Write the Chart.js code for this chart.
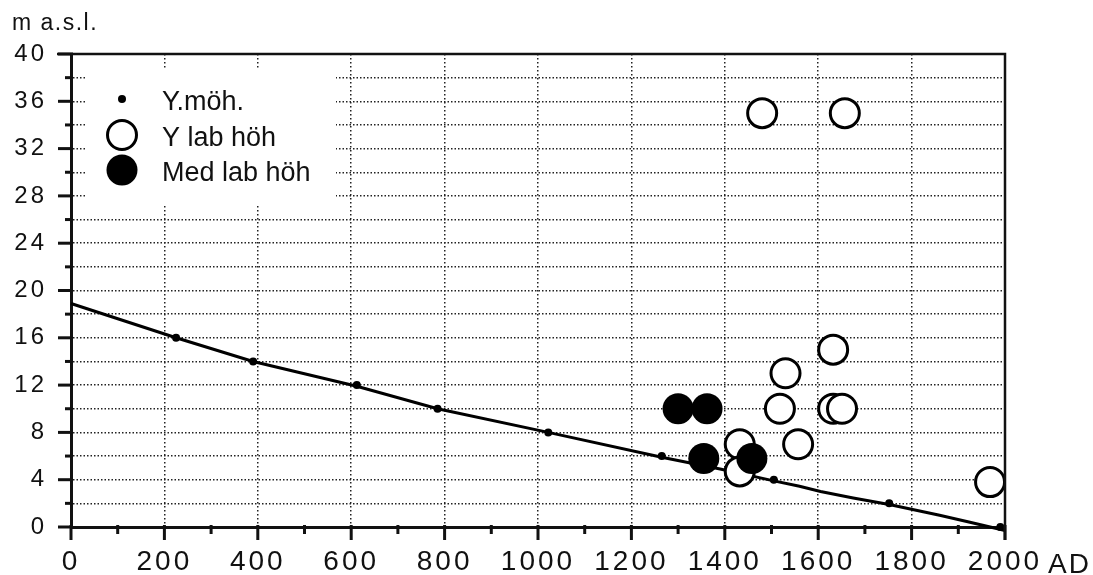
<!DOCTYPE html>
<html>
<head>
<meta charset="utf-8">
<script src="https://cdn.jsdelivr.net/npm/chart.js@4.4.1/dist/chart.umd.min.js"></script>
<style>
  body { margin: 0; background: #fff; }
  #wrap { width: 1093px; height: 575px; }
</style>
</head>
<body>
<div id="wrap"><canvas id="mainChart" width="1093" height="575"></canvas></div>
<script>
// Y.möh. : points on the shore line curve
var shoreYears = [225, 390, 612, 785, 1022, 1265, 1505, 1752, 1990];
var shoreLevels = [16, 14, 12, 10, 8, 6, 4, 2, 0];
// the drawn curve itself
var curveYears = [0, 225, 390, 612, 785, 1022, 1265, 1390, 1505, 1560, 1605, 1675, 1752, 1860, 1925, 2000];
var curveLevels = [18.9, 16, 14, 11.9, 10, 8, 5.9, 4.9, 3.9, 3.45, 3.0, 2.45, 1.9, 1.0, 0.4, -0.3];
// Y lab höh (open circles)
var labYears = [1480, 1657, 1632, 1530, 1518, 1632, 1651, 1432, 1557, 1432, 1968];
var labLevels = [35, 35, 15, 13, 10, 10, 10, 7, 7, 4.7, 3.8];
// Med lab höh (filled circles)
var medYears = [1300, 1362, 1355, 1458];
var medLevels = [10, 10, 5.8, 5.8];

var axisTitle = 'm a.s.l.';
var axisUnit = 'AD';

var toPoints = function(xs, ys) {
    return xs.map(function(x, i) { return {x: x, y: ys[i]}; });
};

// linear scale that can draw its labels letter spaced
var labelSpacing = {x: '3px', y: '3px'};
class SpacedLinearScale extends Chart.LinearScale {
    drawLabels(chartArea) {
        this.ctx.save();
        this.ctx.letterSpacing = labelSpacing[this.id] || '0px';
        super.drawLabels(chartArea);
        this.ctx.restore();
    }
}
SpacedLinearScale.id = 'spacedLinear';
SpacedLinearScale.defaults = Chart.LinearScale.defaults;
Chart.register(SpacedLinearScale);

// top/right frame, tick marks and the two loose texts
var framePlugin = {
    id: 'frame',
    afterDraw: function(chart) {
        var ctx = chart.ctx, a = chart.chartArea;
        var xs = chart.scales.x, ys = chart.scales.y;
        ctx.save();
        ctx.strokeStyle = '#111';
        ctx.lineWidth = 2.5;
        ctx.beginPath();
        ctx.moveTo(a.left - 14, a.top);
        ctx.lineTo(a.right, a.top);
        ctx.lineTo(a.right, a.bottom + 13);
        ctx.stroke();
        ctx.lineWidth = 3;
        ys.ticks.forEach(function(t) {
            var py = ys.getPixelForValue(t.value);
            var len = t.value % 4 === 0 ? 13 : 6;
            ctx.beginPath();
            ctx.moveTo(a.left - len, py);
            ctx.lineTo(a.left + 2, py);
            ctx.stroke();
        });
        xs.ticks.forEach(function(t) {
            var px = xs.getPixelForValue(t.value);
            var len = t.value % 200 === 0 ? 13 : 7;
            ctx.beginPath();
            ctx.moveTo(px, a.bottom - 2);
            ctx.lineTo(px, a.bottom + len);
            ctx.stroke();
        });
        ctx.fillStyle = '#111';
        ctx.textBaseline = 'alphabetic';
        ctx.font = '23px "Liberation Sans", Arial, sans-serif';
        ctx.letterSpacing = '1.5px';
        ctx.fillText(axisTitle, 12, 30);
        ctx.font = '28px "Liberation Sans", Arial, sans-serif';
        ctx.letterSpacing = '2px';
        ctx.fillText(axisUnit, xs.getPixelForValue(2000) + 43, 573);
        ctx.restore();
    }
};

// boxed legend inside the plot
var legendPlugin = {
    id: 'boxLegend',
    afterDraw: function(chart) {
        var ctx = chart.ctx;
        var rows = [99, 135, 170];
        var items = chart.data.datasets.filter(function(d) { return d.inLegend; })
            .sort(function(p, q) { return p.inLegend - q.inLegend; });
        ctx.save();
        ctx.fillStyle = '#fff';
        ctx.fillRect(86, 70, 250, 134);
        ctx.font = '27px "Liberation Sans", Arial, sans-serif';
        ctx.textBaseline = 'middle';
        items.forEach(function(d, i) {
            var y = rows[i];
            ctx.beginPath();
            ctx.arc(122, y, d.legendRadius, 0, Math.PI * 2);
            ctx.fillStyle = d.backgroundColor;
            ctx.fill();
            if (d.borderWidth) {
                ctx.lineWidth = d.borderWidth;
                ctx.strokeStyle = d.borderColor;
                ctx.stroke();
            }
            ctx.fillStyle = '#111';
            ctx.fillText(d.label, 162, y + 4);
        });
        ctx.restore();
    }
};

var chartContainer = document.getElementById('mainChart');
var chartOptions = {
    type: 'scatter',
    data: {
        datasets: [
            {
                label: 'Med lab höh',
                data: toPoints(medYears, medLevels),
                pointRadius: 15.5,
                backgroundColor: '#000',
                borderColor: '#000',
                borderWidth: 0,
                order: 0,
                inLegend: 3,
                legendRadius: 15.5
            },
            {
                label: 'Y lab höh',
                data: toPoints(labYears, labLevels),
                pointRadius: 14.5,
                backgroundColor: '#fff',
                borderColor: '#000',
                borderWidth: 3,
                order: 1,
                clip: false,
                inLegend: 2,
                legendRadius: 14.5
            },
            {
                label: 'Y.möh.',
                data: toPoints(shoreYears, shoreLevels),
                pointRadius: 4,
                backgroundColor: '#000',
                borderWidth: 0,
                order: 2,
                clip: false,
                inLegend: 1,
                legendRadius: 4
            },
            {
                label: 'curve',
                data: toPoints(curveYears, curveLevels),
                showLine: true,
                pointRadius: 0,
                borderColor: '#000',
                borderWidth: 3,
                order: 3,
                clip: false
            }
        ]
    },
    options: {
        responsive: false,
        animation: false,
        devicePixelRatio: 1,
        events: [],
        layout: {padding: {top: 54, right: 88, left: 0, bottom: 0}},
        plugins: {
            legend: {display: false},
            tooltip: {enabled: false}
        },
        scales: {
            x: {
                type: 'spacedLinear',
                min: 0,
                max: 2000,
                afterFit: function(s) { s.height = 48; },
                border: {display: true, color: '#111', width: 3, dash: [1.5, 2.5]},
                grid: {
                    drawTicks: false,
                    lineWidth: 1.5,
                    color: function(c) {
                        return c.tick && c.tick.value % 200 === 0 ? '#222' : 'rgba(0,0,0,0)';
                    }
                },
                ticks: {
                    stepSize: 100,
                    autoSkip: false,
                    maxRotation: 0,
                    padding: 18,
                    color: '#111',
                    font: {family: '"Liberation Sans", Arial, sans-serif', size: 28},
                    callback: function(v) { return v % 200 === 0 ? String(v) : ''; }
                }
            },
            y: {
                type: 'spacedLinear',
                min: 0,
                max: 40,
                afterFit: function(s) { s.width = 71; },
                border: {display: true, color: '#111', width: 3, dash: [1.5, 2]},
                grid: {
                    drawTicks: false,
                    lineWidth: 1.5,
                    color: '#222'
                },
                ticks: {
                    stepSize: 2,
                    autoSkip: false,
                    padding: 24,
                    color: '#111',
                    font: {family: '"Liberation Sans", Arial, sans-serif', size: 24},
                    callback: function(v) { return v % 4 === 0 ? String(v) : ''; }
                }
            }
        }
    },
    plugins: [framePlugin, legendPlugin]
};
var mainChart = new Chart(chartContainer, chartOptions);
</script>
</body>
</html>
